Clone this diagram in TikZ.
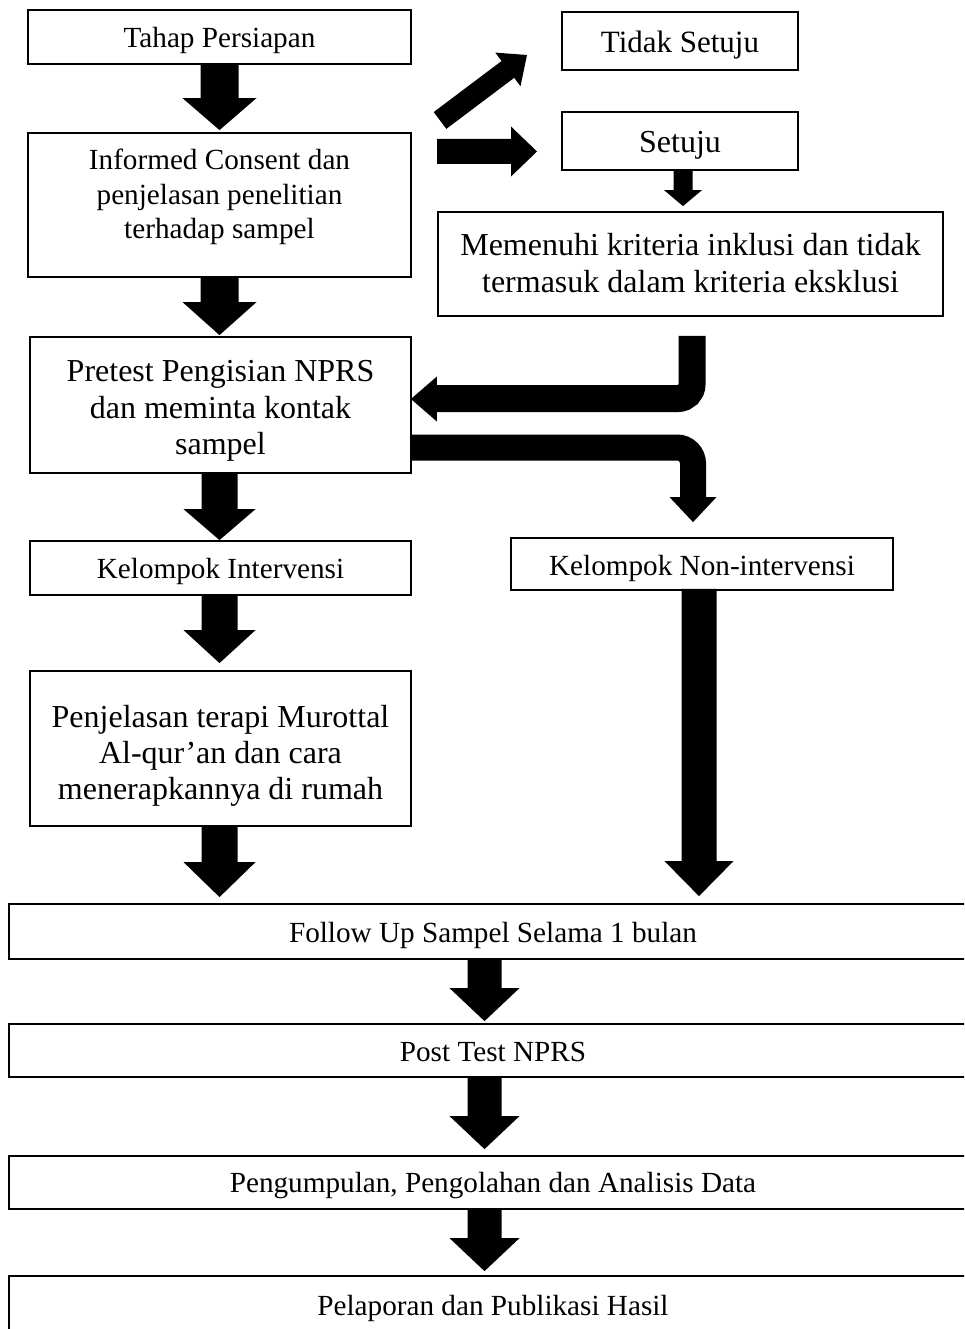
\documentclass[tikz,border=0pt]{standalone}
\usepackage{fontspec}
\setmainfont{Liberation Serif}
\usetikzlibrary{calc}
\tikzset{
  box/.style={draw, line width=1.8pt, inner sep=0pt},
  txt/.style={align=center, inner sep=0pt},
  small/.style={txt, font=\fontsize{29.2pt}{34.5pt}\selectfont},
  large/.style={txt, font=\fontsize{32pt}{36.5pt}\selectfont},
  blk/.style={fill=black, draw=none}
}
% box with its text: #1 name, #2 cx, #3 cy, #4 width, #5 height, #6 text style, #7 text y offset, #8 text
\newcommand{\boxnode}[8]{%
  \node[box,minimum width=#4,minimum height=#5] (#1) at (#2,#3) {};
  \node[#6] (#1-text) at (#2,#3+#7) {#8};}
% down block arrow: #1 top point (its x is the centre), #2 tip point, #3 shaft half, #4 head half, #5 head length
\newcommand{\blkdown}[5]{%
  \fill[blk] let \p1=#1, \p2=#2 in
    (\x1-#3pt,\y1) -- (\x1+#3pt,\y1) -- (\x1+#3pt,\y2+#5pt) -- (\x1+#4pt,\y2+#5pt)
    -- (\x1,\y2) -- (\x1-#4pt,\y2+#5pt) -- (\x1-#3pt,\y2+#5pt) -- cycle;}
\begin{document}
\begin{tikzpicture}[x=1pt,y=-1pt]
\useasboundingbox (0,0) rectangle (964,1329);
\begin{scope}
\clip (0,0) rectangle (964,1329);
% boxes
\boxnode{tahap}{219.5}{37}{383}{54}{small}{3}{Tahap Persiapan}
\boxnode{informed}{219.5}{205}{383}{144}{small}{-8}{Informed Consent dan\\penjelasan penelitian\\terhadap sampel}
\boxnode{tidak}{680}{41}{236}{58}{txt,font=\fontsize{31pt}{36pt}\selectfont}{4}{Tidak Setuju}
\boxnode{setuju}{680}{141}{236}{58}{large}{4}{Setuju}
\boxnode{memenuhi}{690.5}{264}{505}{104}{txt,font=\fontsize{32pt}{37.5pt}\selectfont}{-1}{Memenuhi kriteria inklusi dan tidak\\termasuk dalam kriteria eksklusi}
\boxnode{pretest}{220.5}{405}{381}{136}{large}{6}{Pretest Pengisian NPRS\\dan meminta kontak\\sampel}
\boxnode{kelint}{220.5}{568}{381}{54}{small}{3}{Kelompok Intervensi}
\boxnode{kelnon}{702}{564}{382}{52}{small}{4}{Kelompok Non-intervensi}
\boxnode{penjelasan}{220.5}{748.5}{381}{155}{txt,font=\fontsize{32pt}{36pt}\selectfont}{7}{Penjelasan terapi Murottal\\Al-qur’an dan cara\\menerapkannya di rumah}
\boxnode{follow}{493}{931.5}{968}{55}{small}{4}{Follow Up Sampel Selama 1 bulan}
\boxnode{post}{493}{1050.5}{968}{53}{small}{1.5}{Post Test NPRS}
\boxnode{pengumpulan}{493}{1182.5}{968}{53}{small}{3.5}{Pengumpulan, Pengolahan dan Analisis Data}
\boxnode{pelaporan}{493}{1305}{968}{58}{small}{3}{Pelaporan dan Publikasi Hasil}

% straight down block arrows
\blkdown{(tahap.south)}{($(informed.north)+(0,-2)$)}{19}{37}{32}
\blkdown{(informed.south)}{($(pretest.north)+(0,-1)$)}{19}{37}{33}
\blkdown{($(pretest.south)+(-1,0)$)}{(kelint.north)}{18}{36}{31}
\blkdown{($(kelint.south)+(-1,0)$)}{($(penjelasan.north)+(0,-7)$)}{18}{36}{33}
\blkdown{($(penjelasan.south)+(-1,0)$)}{($(follow.north)+(0,-6)$)}{18}{36}{35}
\blkdown{($(follow.south)+(-8.5,0)$)}{($(post.north)+(0,-2)$)}{17}{35}{33}
\blkdown{($(post.south)+(-8.5,0)$)}{($(pengumpulan.north)+(0,-6)$)}{17}{35}{33}
\blkdown{($(pengumpulan.south)+(-8.5,0)$)}{($(pelaporan.north)+(0,-4)$)}{17}{35}{33}
\blkdown{($(kelnon.south)+(-3,-2)$)}{($(follow.north)+(0,-7)$)}{17.5}{34.5}{35}
\blkdown{($(setuju.south)+(3,0)$)}{($(memenuhi.north)+(0,-5)$)}{9.5}{19}{16}

% arrow to Setuju
\coordinate (rtail) at (437,151.5);
\coordinate (rtip) at (537,151.5);
\fill[blk] let \p1=(rtail), \p2=(rtip) in
  (\x1,\y1+12.5pt) -- (\x2-26pt,\y1+12.5pt) -- (\x2-26pt,\y1+25pt) -- (\x2,\y2)
  -- (\x2-26pt,\y1-25pt) -- (\x2-26pt,\y1-12.5pt) -- (\x1,\y1-12.5pt) -- cycle;

% diagonal arrow to Tidak Setuju
\coordinate (dtail) at (440,120.5);
\coordinate (dtip) at (527,55);
\fill[blk] (433.7,112.1) -- (501.6,61.0) -- (495.3,52.6) -- (dtip) -- (520.5,86.2) -- (514.2,77.8) -- (446.3,128.9) -- cycle;

% bent arrow from Memenuhi to Pretest
\coordinate (astart) at ($(memenuhi.south)+(1.5,19)$);
\coordinate (aend) at (435,398.5);
\coordinate (atip) at ($(pretest.east)+(-1,-6)$);
\draw[line width=27pt, rounded corners=14pt] (astart) |- (aend);
\fill[blk] let \p1=(atip) in (\x1+26pt,\y1+22.5pt) -- (\x1,\y1) -- (\x1+26pt,\y1-22.5pt) -- cycle;

% bent arrow from Pretest to Kelompok Non-intervensi
\coordinate (bstart) at ($(pretest.east)+(-1,42.5)$);
\coordinate (bend) at (693,499);
\coordinate (btip) at ($(kelnon.north)+(-9,-15)$);
\draw[line width=26pt, rounded corners=16pt] (bstart) -| (bend);
\fill[blk] let \p1=(btip) in (\x1-23.5pt,\y1+25pt) -- (\x1+23.5pt,\y1+25pt) -- (\x1,\y1) -- cycle;
\end{scope}
\end{tikzpicture}
\end{document}
